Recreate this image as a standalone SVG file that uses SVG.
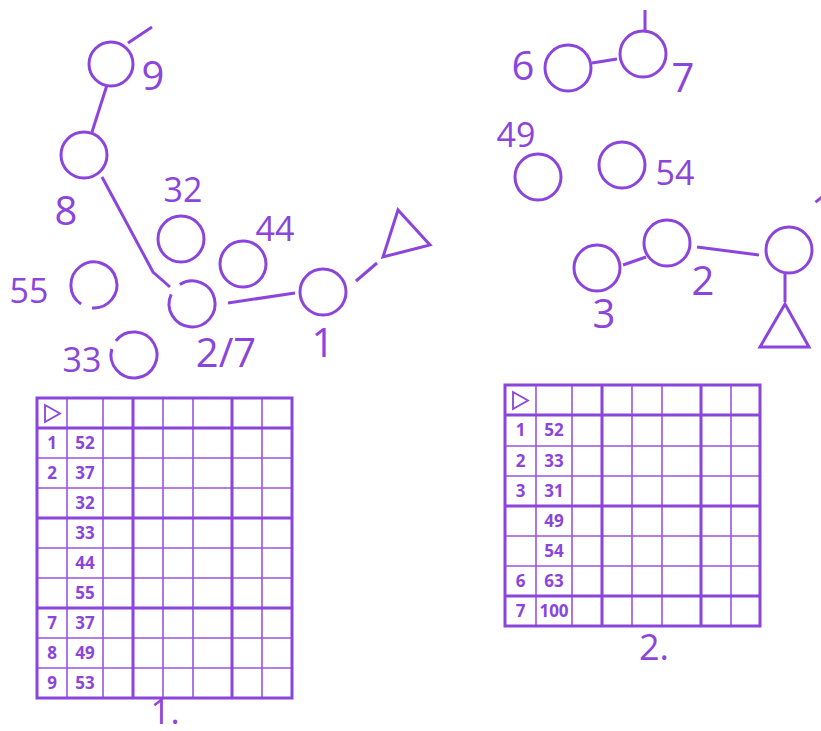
<svg xmlns="http://www.w3.org/2000/svg" width="821" height="731" viewBox="0 0 821 731">
<style>
.n{fill:none;stroke:#8b45dc;stroke-width:3}
.e{fill:none;stroke:#8b45dc;stroke-width:3;stroke-linecap:butt}
.lb{font-family:"Open Sans","Liberation Sans",sans-serif;fill:#8b45dc;text-anchor:middle}
.l1{font-size:40px}
.l2{font-size:34px}
.thin{stroke:#9a55e0;stroke-width:1.6;fill:none}
.thick{stroke:#8b45dc;stroke-width:3;fill:none}
.tt{font-family:"Open Sans","Liberation Sans",sans-serif;font-weight:bold;font-size:17px;fill:#8b45dc;text-anchor:middle}
</style>
<rect width="821" height="731" fill="#ffffff"/>

<!-- Graph 1 -->
<g id="connectors1">
<path class="e" d="M128,43 L152,27"/>
<path class="e" d="M107,85 L92,132"/>
<path class="e" d="M102,177 L153,272 L170,287"/>
<path class="e" d="M228,303 L295,293"/>
<path class="e" d="M356,281 L377,263"/>
</g>
<g id="g1-node9"><circle class="n" cx="111" cy="64" r="22"/><text class="lb l1" x="153" y="90">9</text></g>
<g id="g1-node8"><circle class="n" cx="84" cy="155" r="23"/><text class="lb l1" x="66" y="225">8</text></g>
<g id="g1-node32"><circle class="n" cx="181" cy="239" r="23"/><text class="lb l2" x="183" y="202">32</text></g>
<g id="g1-node44"><circle class="n" cx="243" cy="264" r="23"/><text class="lb l2" x="275" y="241">44</text></g>
<g id="g1-node55"><path class="n" d="M81.1,304.1 A23,23 0 1 1 92.0,307.9"/><text class="lb l2" x="29" y="303">55</text></g>
<g id="g1-node33"><path class="n" d="M115.9,340.8 A23,23 0 1 1 111.8,349.0"/><text class="lb l2" x="82" y="372">33</text></g>
<g id="g1-node27"><path class="n" d="M179.8,284.5 A23,23 0 1 1 171.2,294.3"/><text class="lb l1" x="226" y="367">2/7</text></g>
<g id="g1-node1"><circle class="n" cx="323" cy="292" r="23"/><text class="lb l1" x="323" y="357">1</text></g>
<g id="g1-root"><polygon class="n" points="398,210 430,245 383,257"/></g>

<!-- Graph 2 -->
<g id="connectors2">
<path class="e" d="M645,31 L645,10"/>
<path class="e" d="M592,63 L617,59"/>
<path class="e" d="M623,265 L646,257"/>
<path class="e" d="M697,247 L759,255"/>
<path class="e" d="M785,273 L785,302"/>
</g>
<g id="g2-node6"><circle class="n" cx="568" cy="68" r="23"/><text class="lb l1" x="523" y="80">6</text></g>
<g id="g2-node7"><circle class="n" cx="643" cy="54" r="23"/><text class="lb l1" x="683" y="92">7</text></g>
<g id="g2-node49"><circle class="n" cx="538" cy="177" r="23"/><text class="lb l2" x="516" y="147">49</text></g>
<g id="g2-node54"><circle class="n" cx="622" cy="165" r="23"/><text class="lb l2" x="675" y="185">54</text></g>
<g id="g2-node3"><circle class="n" cx="597" cy="268" r="23"/><text class="lb l1" x="604" y="328">3</text></g>
<g id="g2-node2"><circle class="n" cx="667" cy="243" r="23"/><text class="lb l1" x="703" y="295">2</text></g>
<g id="g2-node1"><circle class="n" cx="789" cy="250" r="23"/><text class="lb l1" x="811" y="224" style="text-anchor:start">1</text></g>
<g id="g2-root"><polygon class="n" points="785,304 760,347 809,347"/></g>

<!-- Table 1 -->
<g id="table1">
<path class="thin" d="M67,398V698 M103,398V698 M163,398V698 M193,398V698 M262,398V698"/>
<path class="thin" d="M37,458H292 M37,488H292 M37,548H292 M37,578H292 M37,638H292 M37,668H292"/>
<path class="thick" d="M133,398V698 M232,398V698 M37,428H292 M37,518H292 M37,608H292"/>
<rect class="thick" x="37" y="398" width="255" height="300"/>
<polygon points="45,405 45,422 60,413.5" fill="none" stroke="#8b45dc" stroke-width="1.8"/>
<text class="tt" x="52" y="449">1</text><text class="tt" x="85" y="449">52</text>
<text class="tt" x="52" y="479">2</text><text class="tt" x="85" y="479">37</text>
<text class="tt" x="85" y="509">32</text>
<text class="tt" x="85" y="539">33</text>
<text class="tt" x="85" y="569">44</text>
<text class="tt" x="85" y="599">55</text>
<text class="tt" x="52" y="629">7</text><text class="tt" x="85" y="629">37</text>
<text class="tt" x="52" y="659">8</text><text class="tt" x="85" y="659">49</text>
<text class="tt" x="52" y="689">9</text><text class="tt" x="85" y="689">53</text>
<text class="lb" style="font-size:35px" x="165" y="724">1.</text>
</g>

<!-- Table 2 -->
<g id="table2">
<path class="thin" d="M536,385V626 M572,385V626 M632,385V626 M662,385V626 M731,385V626"/>
<path class="thin" d="M505,446H760 M505,476H760 M505,536H760 M505,566H760"/>
<path class="thick" d="M602,385V626 M701,385V626 M505,415H760 M505,506H760 M505,596H760"/>
<rect class="thick" x="505" y="385" width="255" height="241"/>
<polygon points="513,392 513,409 528,400.5" fill="none" stroke="#8b45dc" stroke-width="1.8"/>
<text class="tt" x="520.5" y="436">1</text><text class="tt" x="554" y="436">52</text>
<text class="tt" x="520.5" y="467">2</text><text class="tt" x="554" y="467">33</text>
<text class="tt" x="520.5" y="497">3</text><text class="tt" x="554" y="497">31</text>
<text class="tt" x="554" y="527">49</text>
<text class="tt" x="554" y="557">54</text>
<text class="tt" x="520.5" y="587">6</text><text class="tt" x="554" y="587">63</text>
<text class="tt" x="520.5" y="617">7</text><text class="tt" x="554" y="617">100</text>
<text class="lb" style="font-size:36px" x="654" y="660">2.</text>
</g>
</svg>
